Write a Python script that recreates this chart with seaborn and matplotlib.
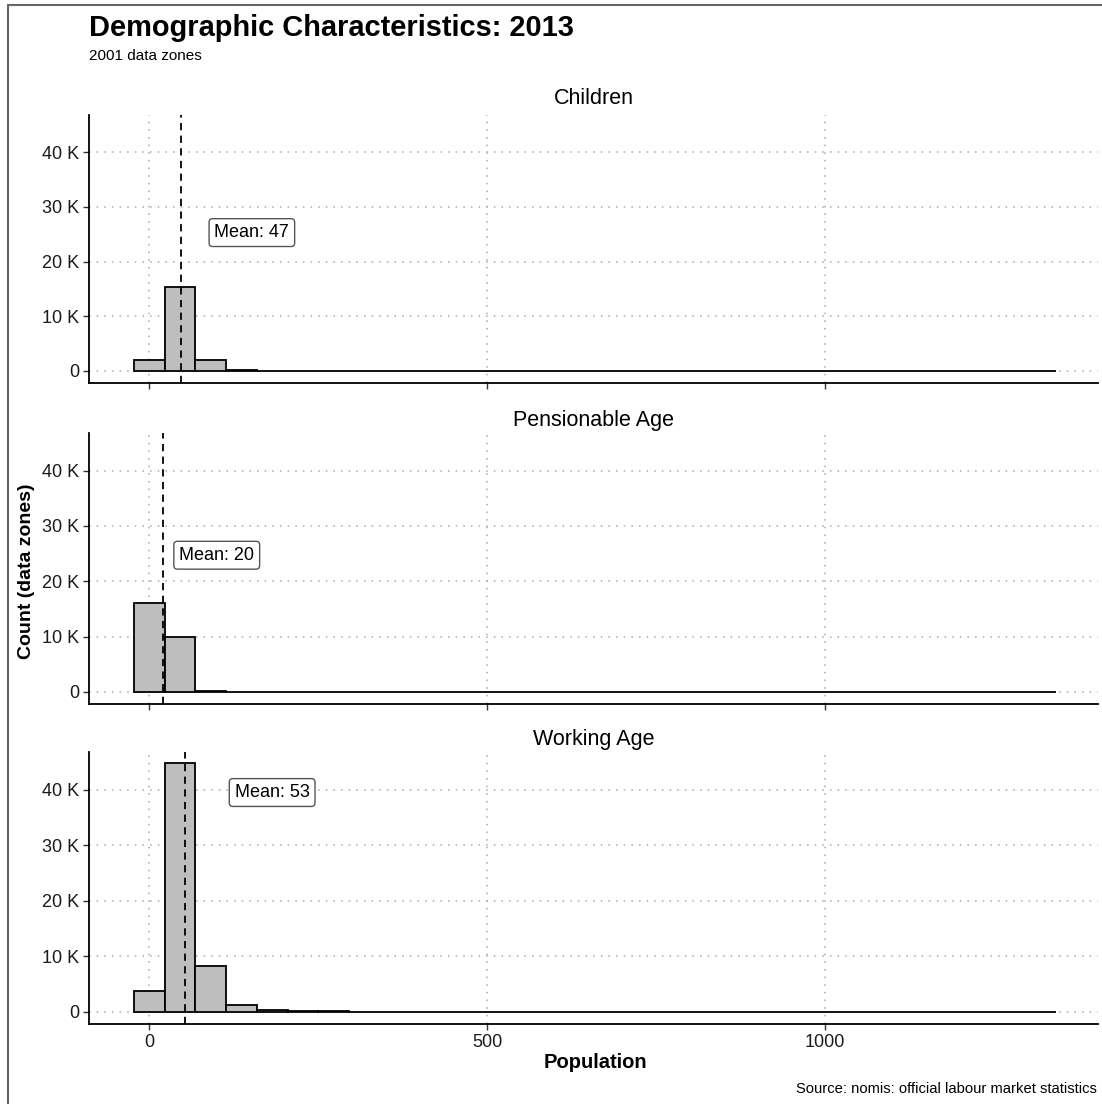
import numpy as np
import pandas as pd
import matplotlib
matplotlib.use("Agg")
import matplotlib.pyplot as plt
from matplotlib.ticker import FuncFormatter, FixedLocator
from matplotlib.lines import Line2D
import seaborn as sns

# ---- data ----
bin_width = 45.5
bin_centers = [i * bin_width for i in range(30)]

children_counts = [2000, 15300, 2050, 220, 50, 15, 8, 5, 3, 2,
                   1, 1, 0, 0, 0, 0, 0, 0, 0, 0,
                   0, 0, 0, 0, 0, 0, 0, 0, 0, 0]
pension_counts = [16000, 10000, 200, 20, 5, 2, 1, 0, 0, 0,
                  0, 0, 0, 0, 0, 0, 0, 0, 0, 0,
                  0, 0, 0, 0, 0, 0, 0, 0, 0, 0]
working_counts = [3750, 44800, 8200, 1150, 380, 150, 80, 50, 30, 20,
                  15, 10, 8, 6, 5, 4, 3, 2, 2, 1,
                  1, 1, 1, 1, 0, 0, 0, 0, 0, 0]

facets = ["Children", "Pensionable Age", "Working Age"]
means = [47, 20, 53]
label_x = [152, 100, 182]
label_y = [25300, 24700, 39500]

x_ticks = [0, 500, 1000]
y_ticks = [0, 10000, 20000, 30000, 40000]

df = pd.DataFrame({
    "facet": np.repeat(facets, len(bin_centers)),
    "population": bin_centers * 3,
    "count": children_counts + pension_counts + working_counts,
})

sns.set_style("white")
plt.rcParams["font.family"] = ["Liberation Sans", "DejaVu Sans"]
plt.rcParams["text.color"] = "black"

fig = plt.figure(figsize=(11.02, 11.04), dpi=100)
W, H = 1102, 1104

panels = [(115, 383), (433, 704), (752, 1024)]
title_pads = [8, 5, 5]
left_px, right_px = 89, 1098
edges = [bin_centers[0] - bin_width / 2 + i * bin_width for i in range(31)]

kfmt = FuncFormatter(lambda v, p: "0" if v == 0 else f"{int(v/1000)} K")

for i, (name, (top, bot)) in enumerate(zip(facets, panels)):
    ax = fig.add_axes([left_px / W, 1 - bot / H, (right_px - left_px) / W, (bot - top) / H])
    sub = df[df["facet"] == name]
    sns.histplot(data=sub, x="population", weights="count", bins=edges, ax=ax,
                 color="#BEBEBE", edgecolor="black", linewidth=1.3, alpha=1)
    ax.set_xlim(-89, 1404)
    ax.set_ylim(-2200, 46800)
    ax.xaxis.set_major_locator(FixedLocator(x_ticks))
    ax.yaxis.set_major_locator(FixedLocator(y_ticks))
    ax.yaxis.set_major_formatter(kfmt)
    ax.grid(True, which="major", linestyle=(0, (1, 4)), color="#AAAAAA", linewidth=1.1)
    ax.set_axisbelow(True)
    for s in ["top", "right"]:
        ax.spines[s].set_visible(False)
    for s in ["left", "bottom"]:
        ax.spines[s].set_color("black")
        ax.spines[s].set_linewidth(1.3)
    ax.tick_params(axis="both", direction="out", length=4, width=1, color="#333333",
                   labelsize=13, labelcolor="#1a1a1a", left=True, bottom=True, pad=3)
    ax.set_xlabel("")
    ax.set_ylabel("")
    if i < 2:
        ax.tick_params(axis="x", labelbottom=False)
    ax.axvline(means[i], color="black", linestyle=(0, (4, 3)), linewidth=1.3)
    ax.text(label_x[i], label_y[i], f"Mean: {means[i]}", ha="center", va="center",
            fontsize=13, color="black",
            bbox=dict(boxstyle="round,pad=0.3,rounding_size=0.2", fc="white", ec="#555555", lw=1))
    ax.set_title(name, fontsize=15.5, pad=title_pads[i], color="black")

fig.text(89 / W, 1 - 28 / H, "Demographic Characteristics: 2013", fontsize=20.9,
         fontweight="bold", ha="left", va="center", color="black")
fig.text(89 / W, 1 - 56 / H, "2001 data zones", fontsize=11, ha="left", va="center",
         color="black")
fig.text(27 / W, 1 - 571 / H, "Count (data zones)", fontsize=14, fontweight="bold",
         rotation=90, ha="center", va="center", color="black")
fig.text(595 / W, 1 - 1063 / H, "Population", fontsize=14.5, fontweight="bold",
         ha="center", va="center", color="black")
fig.text(1097 / W, 1 - 1089 / H, "Source: nomis: official labour market statistics",
         fontsize=10.6, ha="right", va="center", color="black")

# screenshot frame lines
fig.add_artist(Line2D([8 / W, 1], [1 - 5 / H, 1 - 5 / H], color="#666666", lw=1.5))
fig.add_artist(Line2D([8 / W, 8 / W], [0, 1 - 5 / H], color="#666666", lw=1.5))

fig.savefig("out.png", dpi=100)
